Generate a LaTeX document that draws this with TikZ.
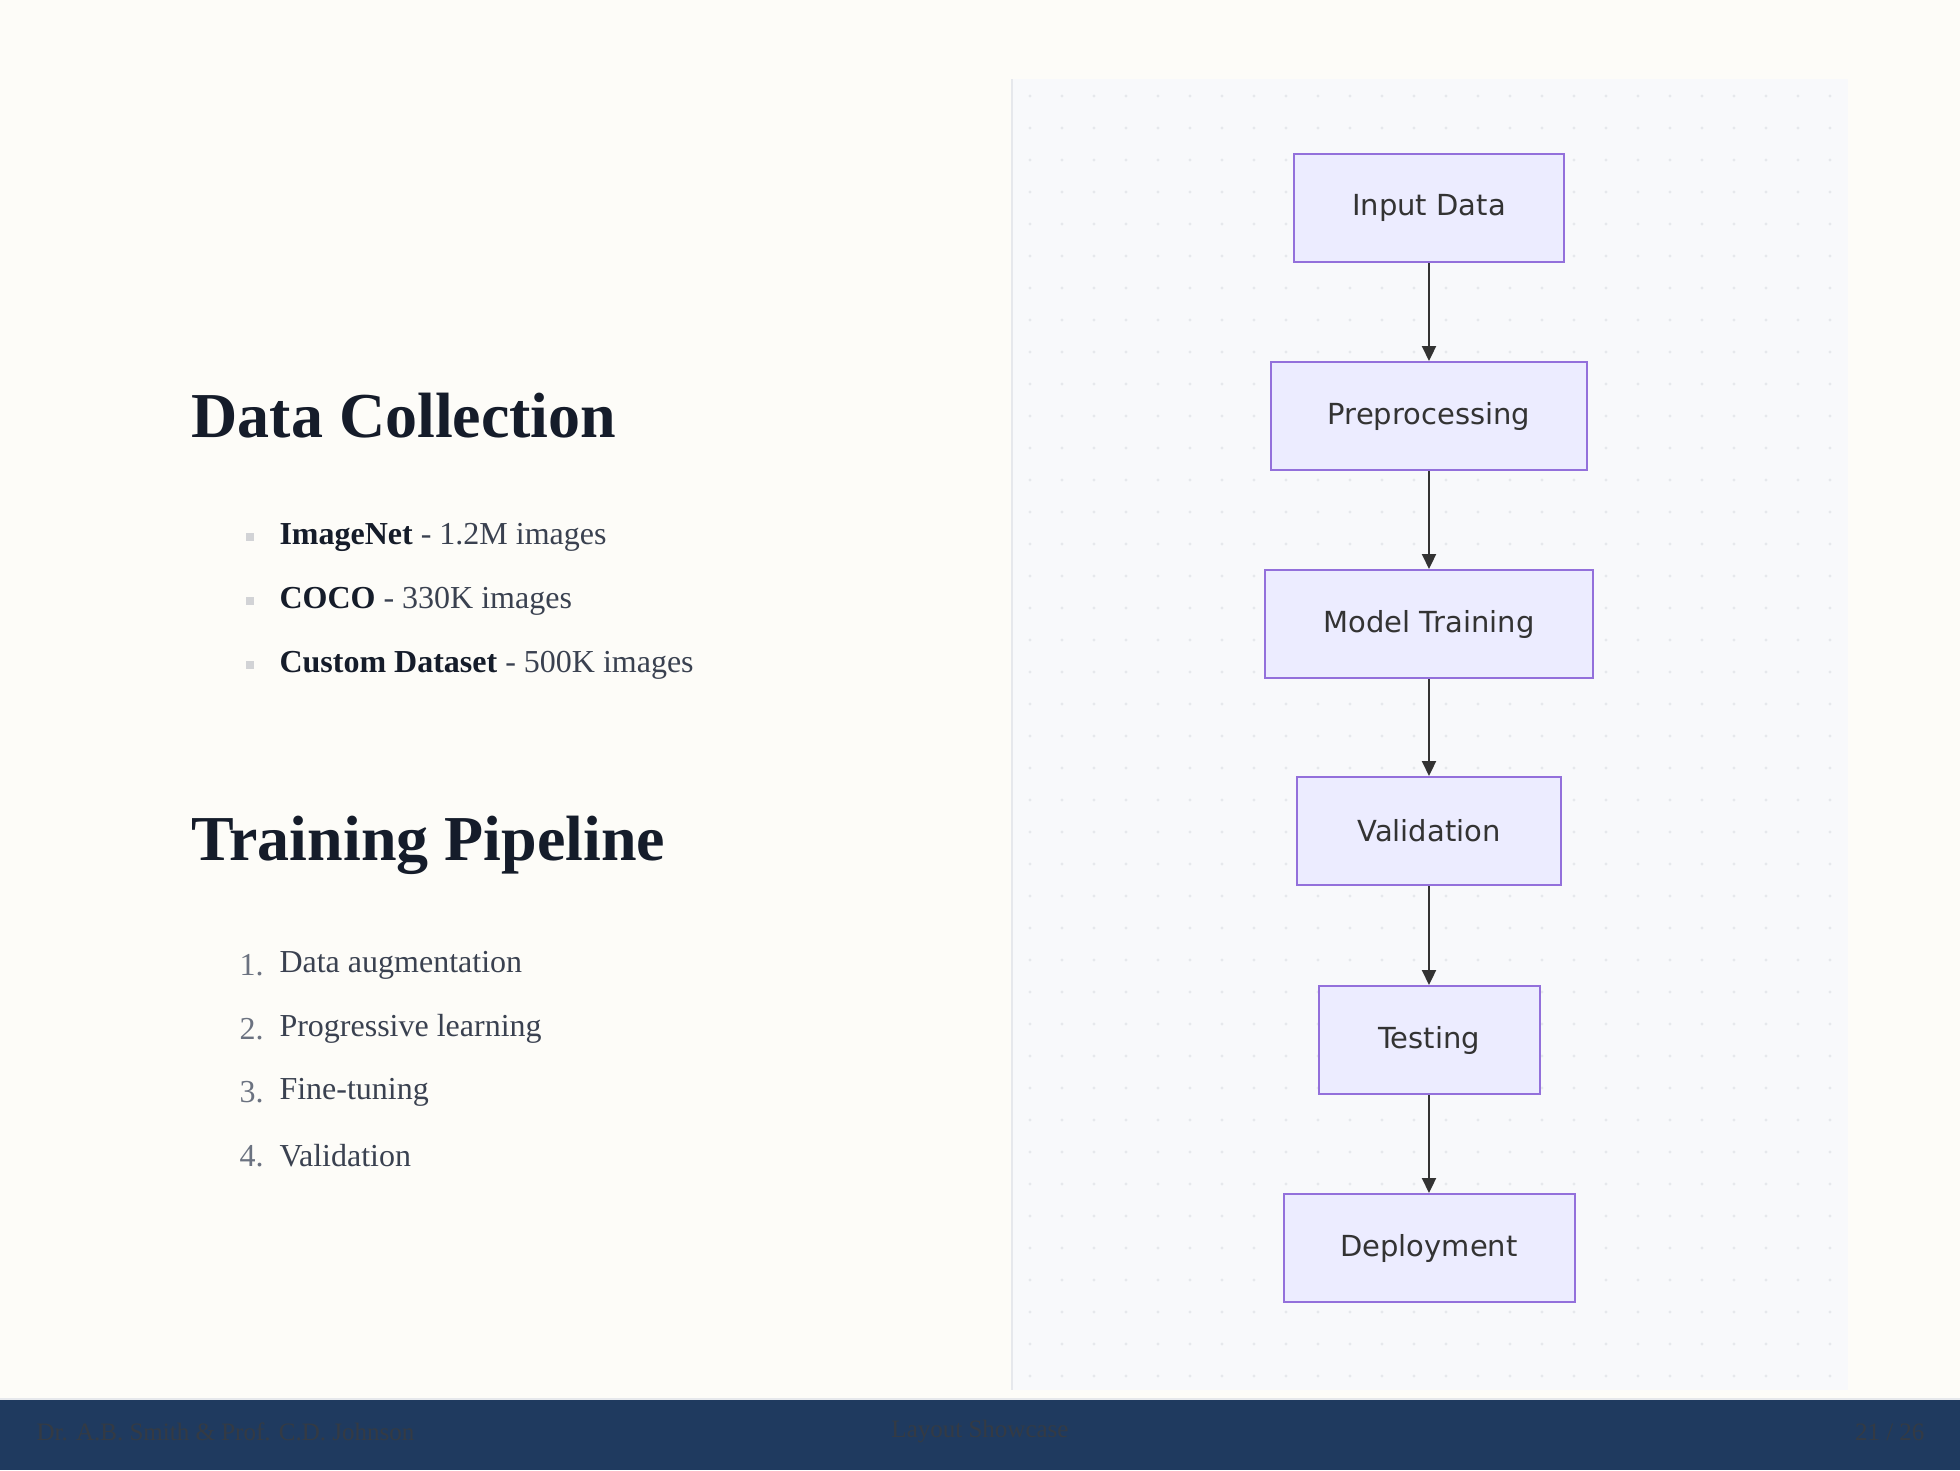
\documentclass[tikz,border=0pt]{standalone}
\usepackage{fontspec}
\setmainfont{Liberation Serif}
\newfontfamily\boxfont{DejaVu Sans}
\usetikzlibrary{arrows.meta}
\definecolor{pagebg}{HTML}{FDFCF8}
\definecolor{panelbg}{HTML}{F8F9FB}
\definecolor{dotc}{HTML}{E6E8EC}
\definecolor{footbg}{HTML}{1F3A5F}
\definecolor{foottx}{HTML}{343A44}
\definecolor{headc}{HTML}{151C2A}
\definecolor{bodyc}{HTML}{3A4150}
\definecolor{numc}{HTML}{6B7280}
\definecolor{boxfill}{HTML}{ECECFF}
\definecolor{boxline}{HTML}{9370DB}
\definecolor{arrowc}{HTML}{333333}
\tikzset{
  flowbox/.style={draw=boxline, line width=2pt, fill=boxfill, minimum height=108pt, inner sep=0pt,
    font=\boxfont\fontsize{29}{34}\selectfont, text=arrowc},
  flowarrow/.style={draw=arrowc, line width=2.2pt, -{Triangle[length=15pt,width=14pt]}},
  heading/.style={anchor=west, text=headc, font=\bfseries\fontsize{64}{70}\selectfont},
  bodytxt/.style={anchor=west, text=bodyc, font=\fontsize{32}{38}\selectfont},
  numtxt/.style={anchor=west, text=numc, font=\fontsize{32}{38}\selectfont},
  foot/.style={text=foottx, font=\fontsize{25}{30}\selectfont}
}
\begin{document}
\begin{tikzpicture}[x=1pt,y=-1pt]
\useasboundingbox (0,0) rectangle (1960,1470);
\fill[pagebg] (0,0) rectangle (1960,1470);
% panel
\fill[panelbg] (1012,79) rectangle (1848,1390);
\draw[dotc, line width=1.5pt] (1012,79) -- (1012,1390);
\foreach \i in {0,...,25} {
  \foreach \j in {0,...,40} {
    \fill[dotc] ({1030+\i*32},{96+\j*32}) circle (1.6pt);
  }
}
% footer
\fill[footbg] (0,1400) rectangle (1960,1470);
\draw[dotc, line width=2pt] (0,1399) -- (1960,1399);
\node[foot, anchor=west] (f1) at (33,1432) {Dr. A.B. Smith \& Prof. C.D. Johnson};
\node[foot] (f2) at (980,1432) {Layout Showcase};
\node[foot, anchor=east] (f3) at (1928,1432) {21 / 26};
% left text
\node[heading] (h1) at (188,416) {Data Collection};
\foreach \y/\b/\r [count=\k] in {537/ImageNet/1.2M images, 601/COCO/330K images, 665/Custom Dataset/500K images} {
  \fill[dotc!80!gray] (246,{\y-4}) rectangle (254,{\y+4});
  \node[bodytxt] (b\k) at (276,\y) {\textbf{\color{headc}\b} - \r};
}
\node[heading] (h2) at (188,845) {Training Pipeline};
\foreach \y/\t [count=\k] in {965/Data augmentation, 1029/Progressive learning, 1092/Fine-tuning, 1156/Validation} {
  \node[numtxt] (n\k) at (236,\y) {\k.};
  \node[bodytxt] (t\k) at (276,\y) {\t};
}
% flowchart
\node[flowbox, minimum width=270pt] (a) at (1429,208) {Input Data};
\node[flowbox, minimum width=316pt] (b) at (1429,416) {Preprocessing};
\node[flowbox, minimum width=328pt] (c) at (1429,624) {Model Training};
\node[flowbox, minimum width=264pt] (d) at (1429,831) {Validation};
\node[flowbox, minimum width=221pt] (e) at (1429,1040) {Testing};
\node[flowbox, minimum width=291pt] (f) at (1429,1248) {Deployment};
\draw[flowarrow] (a) -- (b);
\draw[flowarrow] (b) -- (c);
\draw[flowarrow] (c) -- (d);
\draw[flowarrow] (d) -- (e);
\draw[flowarrow] (e) -- (f);
\end{tikzpicture}
\end{document}
